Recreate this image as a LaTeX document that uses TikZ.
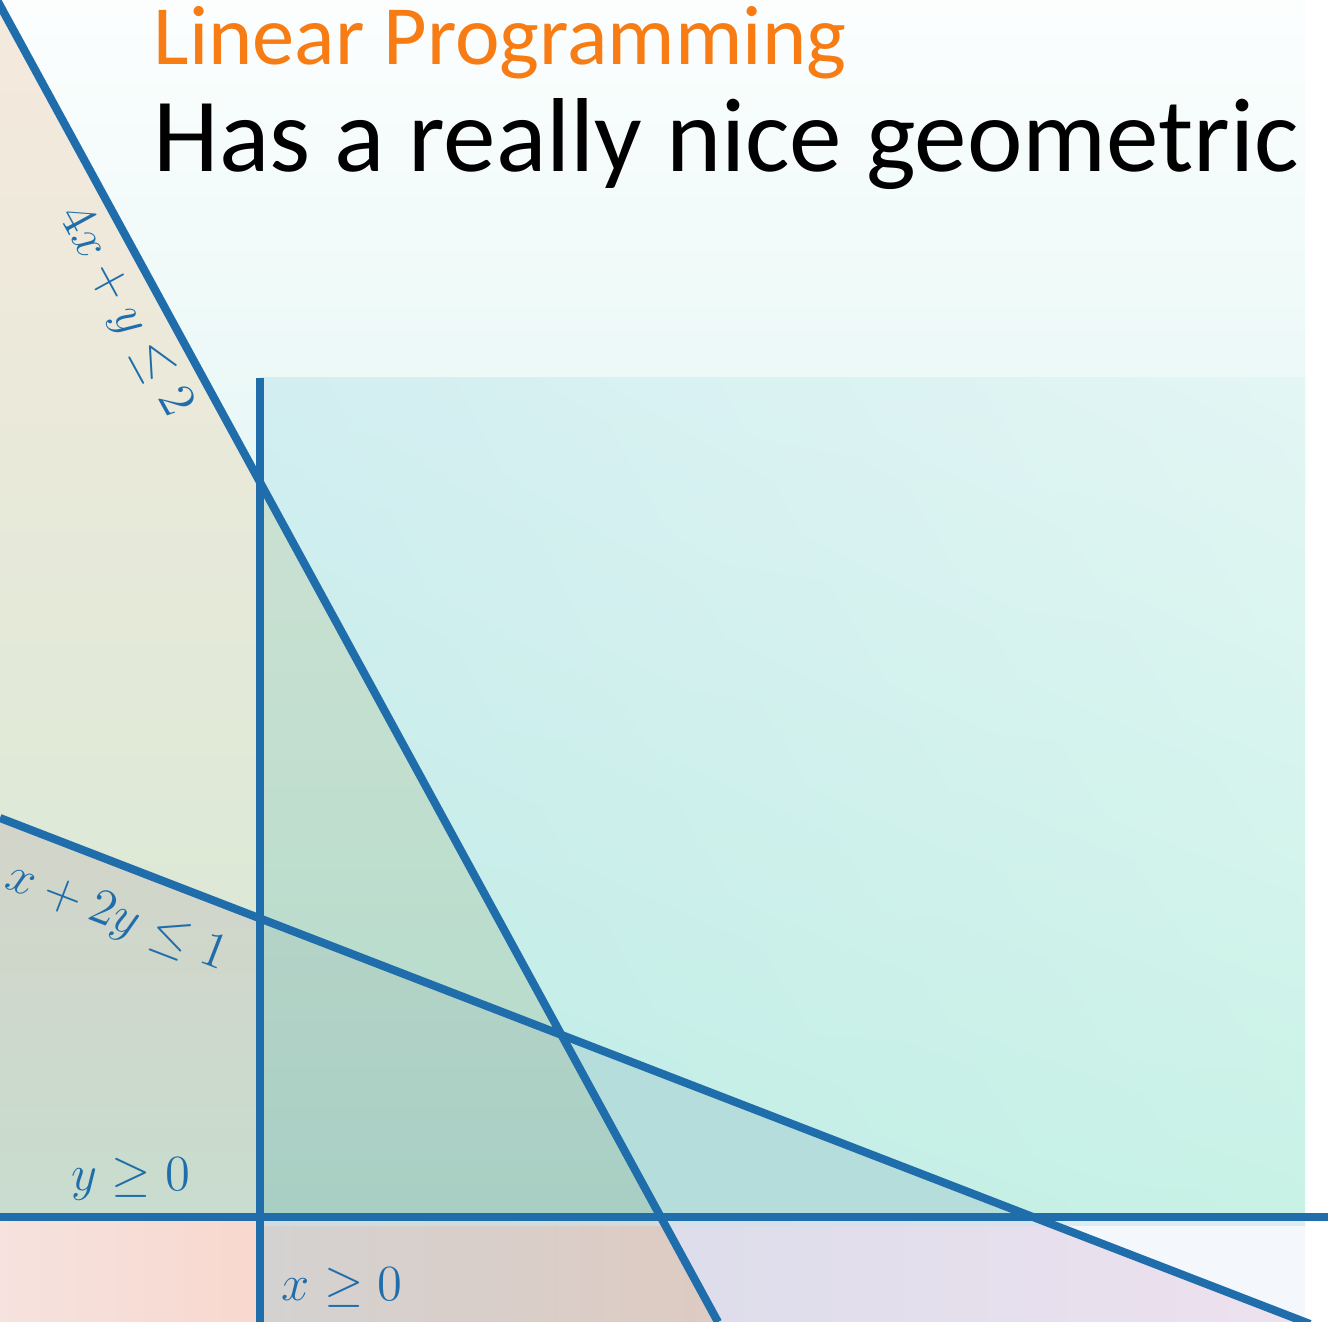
\documentclass[tikz,border=0pt]{standalone}
\usepackage{fontspec}
\setmainfont{Carlito}
\usepackage{xcolor}
\usepackage{tikz}
\usetikzlibrary{shadings}

\definecolor{lpblue}{HTML}{1F6EAB}
\definecolor{lporange}{HTML}{F77C14}
\definecolor{bgtop}{HTML}{FCFEFE}
\definecolor{bgbot}{HTML}{E6F7F5}
\definecolor{quadUL}{RGB}{210,238,241}
\definecolor{quadUR}{RGB}{227,246,244}
\definecolor{quadLL}{RGB}{190,235,229}
\definecolor{quadLR}{RGB}{200,242,230}
\definecolor{beigeTop}{RGB}{245,233,221}
\definecolor{beigeBot}{RGB}{220,233,214}
\definecolor{wedgeTop}{RGB}{203,225,210}
\definecolor{wedgeBot}{RGB}{184,220,204}
\definecolor{lowTop}{RGB}{211,212,201}
\definecolor{lowBot}{RGB}{200,221,207}
\definecolor{feasTop}{RGB}{181,211,199}
\definecolor{feasBot}{RGB}{168,207,196}
\definecolor{tealTri}{RGB}{180,221,219}
\definecolor{pinkL}{RGB}{246,226,222}
\definecolor{pinkR}{RGB}{248,216,207}
\definecolor{tanL}{RGB}{212,210,209}
\definecolor{tanR}{RGB}{222,203,194}
\definecolor{lilacL}{RGB}{221,221,235}
\definecolor{lilacR}{RGB}{238,225,238}
\definecolor{paleBlue}{RGB}{244,248,252}
\definecolor{bandBlue}{RGB}{205,228,236}

\begin{document}
\begin{tikzpicture}[
  x=0.01cm, y=-0.01cm,
  bound/.style={draw=lpblue, line width=2.3pt},
  cond/.style={text=lpblue, font=\fontsize{14}{16}\selectfont, inner sep=0pt},
  heading/.style={anchor=base west, inner sep=0pt}
]
\useasboundingbox (0,0) rectangle (1328,1322);
\clip (0,0) rectangle (1328,1322);

\coordinate (sTop) at (-3,0);
\coordinate (sBot) at (718,1322);
\coordinate (hL)   at (0,818);
\coordinate (hR)   at (1310,1324);
\coordinate (vTop) at (260,378);
\coordinate (vBot) at (260,1322);
\coordinate (bL)   at (0,1217);
\coordinate (bR)   at (1328,1217);
\coordinate (sv) at (intersection of sTop--sBot and vTop--vBot);
\coordinate (hv) at (intersection of hL--hR and vTop--vBot);
\coordinate (sh) at (intersection of sTop--sBot and hL--hR);
\coordinate (sb) at (intersection of sTop--sBot and bL--bR);
\coordinate (hb) at (intersection of hL--hR and bL--bR);
\coordinate (o)  at (intersection of vTop--vBot and bL--bR);

% regions
\fill[white] (0,0) rectangle (1328,1322);
\shade[top color=bgtop, bottom color=bgbot] (0,0) rectangle (1305,500);
\shade[upper left=quadUL, upper right=quadUR, lower left=quadLL, lower right=quadLR]
  (vTop) rectangle (1305,1226);
\shade[top color=beigeTop, bottom color=beigeBot] (0,0) -- (sTop) -- (sv) -- (hv) -- (hL) -- cycle;
\shade[top color=wedgeTop, bottom color=wedgeBot] (sv) -- (sh) -- (hv) -- cycle;
\shade[top color=lowTop, bottom color=lowBot] (hL) -- (hv) -- (o) -- (bL) -- cycle;
\shade[top color=feasTop, bottom color=feasBot] (hv) -- (sh) -- (sb) -- (o) -- cycle;
\fill[tealTri] (sh) -- (hb) -- (sb) -- cycle;
\shade[left color=pinkL, right color=pinkR] (bL) -- (o) -- (vBot) -- (0,1322) -- cycle;
\shade[left color=tanL, right color=tanR] (o) -- (sb) -- (sBot) -- (vBot) -- cycle;
\shade[left color=lilacL, right color=lilacR] (sb) -- (hb) -- (hR) -- (sBot) -- cycle;
\fill[paleBlue] (hb) -- (1305,1217) -- (1305,1324) -- (hR) -- cycle;
\fill[bandBlue, opacity=.6] (o) rectangle (1305,1226);

% constraint lines
\draw[bound] (sTop) -- (sBot);
\draw[bound] (hL) -- (hR);
\draw[bound] (vTop) -- (vBot);
\draw[bound] (bL) -- (bR);

\node[cond, rotate=-61.4] (c4xy) at (124,312) {$4x + y \leq 2$};
\node[cond, rotate=-21]   (cx2y) at (116,918) {$x + 2y \leq 1$};
\node[cond, anchor=base]  (cy)   at (131,1190) {$y \geq 0$};
\node[cond, anchor=base]  (cx)   at (342,1300) {$x \geq 0$};

\node[heading, text=lporange, font=\fontsize{24}{28}\selectfont] (title) at (153,65) {Linear Programming};
\node[heading, font=\fontsize{29.9}{35}\selectfont] (claim) at (153,172) {Has a really nice geometric};
\end{tikzpicture}
\end{document}
